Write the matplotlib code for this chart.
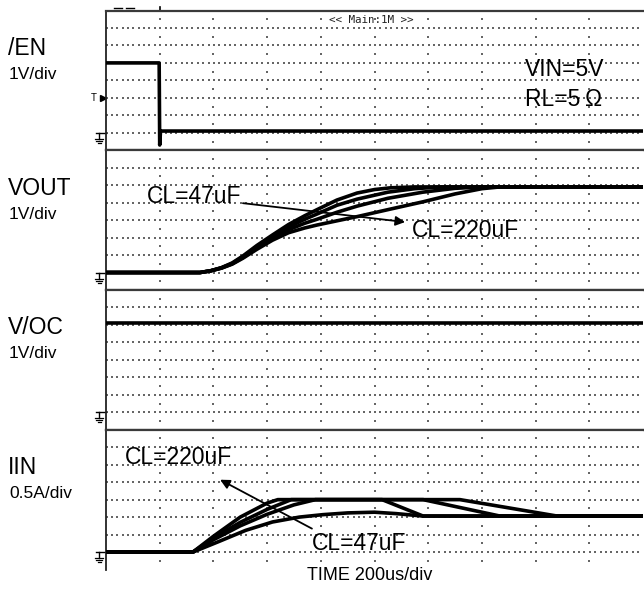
import numpy as np
import matplotlib
matplotlib.use("Agg")
import matplotlib.pyplot as plt
from matplotlib.transforms import blended_transform_factory

plt.rcParams["font.family"] = ["Liberation Sans", "DejaVu Sans"]

# time base: 200us/div, 10 div across
t_per_div = 200
n_xdiv = 10

# /EN (V)
en_t = [0, 198, 200, 203, 2000]
en_v = [4.0, 4.0, -0.7, 0.1, 0.1]

# VOUT (V), one trace per load cap
vout_t_47 = [0, 350, 390, 430, 470, 510, 562, 620, 680, 740, 786, 860, 935, 1000, 1060, 1150, 2000]
vout_v_47 = [0, 0, 0.1, 0.28, 0.55, 0.95, 1.55, 2.15, 2.75, 3.25, 3.6, 4.15, 4.55, 4.75, 4.85, 4.9, 4.9]
vout_t_100 = [0, 350, 390, 430, 470, 510, 562, 620, 680, 740, 786, 860, 935, 1050, 1150, 1250, 2000]
vout_v_100 = [0, 0, 0.1, 0.27, 0.52, 0.9, 1.47, 2.05, 2.6, 3.05, 3.35, 3.85, 4.2, 4.6, 4.8, 4.9, 4.9]
vout_t_150 = [0, 350, 390, 430, 470, 510, 562, 620, 680, 740, 786, 860, 935, 1050, 1180, 1300, 1400, 2000]
vout_v_150 = [0, 0, 0.1, 0.26, 0.5, 0.86, 1.4, 1.95, 2.45, 2.82, 3.05, 3.45, 3.8, 4.25, 4.6, 4.82, 4.9, 4.9]
vout_t_220 = [0, 350, 390, 430, 470, 510, 562, 620, 680, 740, 786, 860, 935, 1050, 1181, 1300, 1400, 1467, 2000]
vout_v_220 = [0, 0, 0.1, 0.25, 0.48, 0.82, 1.33, 1.85, 2.28, 2.55, 2.72, 2.96, 3.2, 3.6, 4.05, 4.5, 4.8, 4.9, 4.9]

# V/OC (V)
voc_t = [0, 2000]
voc_v = [5.1, 5.1]

# IIN (A)
iin_t_47 = [0, 324, 420, 520, 620, 720, 808, 900, 1000, 1080, 1180, 2000]
iin_a_47 = [0, 0, 0.3, 0.62, 0.86, 1.0, 1.07, 1.12, 1.14, 1.1, 1.03, 1.03]
iin_t_100 = [0, 324, 400, 500, 600, 700, 780, 1028, 1181, 2000]
iin_a_100 = [0, 0, 0.35, 0.75, 1.08, 1.35, 1.5, 1.5, 1.03, 1.03]
iin_t_150 = [0, 324, 400, 500, 600, 690, 1181, 1467, 2000]
iin_a_150 = [0, 0, 0.4, 0.85, 1.22, 1.5, 1.5, 1.03, 1.03]
iin_t_220 = [0, 324, 400, 500, 600, 640, 1318, 1680, 2000]
iin_a_220 = [0, 0, 0.45, 1.0, 1.4, 1.5, 1.5, 1.03, 1.03]

names = ["/EN", "VOUT", "V/OC", "IIN"]
scales = ["1V/div", "1V/div", "1V/div", "0.5A/div"]
per_div = [1.0, 1.0, 1.0, 0.5]

W, H = 644, 590
fig = plt.figure(figsize=(W / 100, H / 100), dpi=100)

left_px, right_px = 106, 643
top_px, panel_h = 10.5, 139.75
axes = []
for i in range(4):
    y0 = top_px + i * panel_h
    ax = fig.add_axes([left_px / W, 1 - (y0 + panel_h) / H,
                       (right_px - left_px) / W, panel_h / H])
    s = per_div[i]
    ax.set_xlim(0, n_xdiv * t_per_div)
    ax.set_ylim(-1 * s, 7 * s)
    ax.set_xticks([])
    ax.set_yticks([])
    ax.spines["right"].set_visible(False)
    ax.spines["top"].set_color("#3a3a3a")
    ax.spines["top"].set_linewidth(1.6)
    ax.spines["bottom"].set_color("#3a3a3a")
    ax.spines["bottom"].set_linewidth(1.6)
    ax.spines["left"].set_color("#222222")
    ax.spines["left"].set_linewidth(1.3)
    if i == 3:
        ax.spines["bottom"].set_visible(False)

    # dotted graticule
    xs = np.arange(2, n_xdiv * t_per_div, t_per_div / 10)
    for k in range(7):
        ax.scatter(xs, np.full_like(xs, k * s), s=0.9, marker="s", c="#666666",
                   lw=0, zorder=1)
    ys = (np.arange(0, 8) - 0.5) * s
    for k in range(1, n_xdiv):
        ax.scatter(np.full_like(ys, k * t_per_div), ys, s=0.9, marker="s",
                   c="#666666", lw=0, zorder=1)

    # ground marker left of the screen
    tr = blended_transform_factory(ax.transAxes, ax.transData)
    px = 1 / (right_px - left_px)
    dv = s / 17.5
    ax.plot([-10 * px, 0], [0, 0], color="black", lw=1.0, transform=tr, clip_on=False)
    ax.plot([-7 * px, -7 * px], [0, -6 * dv], color="black", lw=1.0, transform=tr, clip_on=False)
    for j, hw in enumerate([4, 3, 1.5]):
        yy = -(6 + 2 * j) * dv
        ax.plot([(-7 - hw) * px, (-7 + hw) * px], [yy, yy], color="black", lw=0.9,
                transform=tr, clip_on=False)

    # channel labels
    fig.text(8 / W, 1 - (55 + i * 139.75) / H, names[i], fontsize=16.5, va="baseline")
    fig.text(9 / W, 1 - (79 + i * 139.75) / H, scales[i], fontsize=12.5, va="baseline")
    axes.append(ax)

tr_lw = 2.6
ax1, ax2, ax3, ax4 = axes

# /EN
ax1.plot(en_t, en_v, color="black", lw=tr_lw, zorder=3)
ax1.text(830, 6.45, "<< Main:1M >>", fontsize=7.8, family="DejaVu Sans Mono",
         va="center", ha="left", color="#222222")
ax1.text(1560, 3.26, "VIN=5V", fontsize=16.5, va="baseline")
ax1.text(1560, 1.54, "RL=5\u2009\u03a9", fontsize=16.5, va="baseline")
tr1 = blended_transform_factory(ax1.transAxes, ax1.transData)
ax1.text(-0.022, 2.0, "T", fontsize=7, transform=tr1, va="center", ha="center")
ax1.plot([-0.006], [2.0], marker=">", ms=4, color="black", transform=tr1, clip_on=False)
ax1.plot([200, 200], [7.0, 7.2], color="black", lw=1.2, clip_on=False)
ax1.plot([30, 60], [7.15, 7.15], color="black", lw=1.0, clip_on=False)
ax1.plot([75, 105], [7.15, 7.15], color="black", lw=1.0, clip_on=False)

# VOUT
for tt, vv in [(vout_t_47, vout_v_47), (vout_t_100, vout_v_100),
               (vout_t_150, vout_v_150), (vout_t_220, vout_v_220)]:
    ax2.plot(tt, vv, color="black", lw=tr_lw, zorder=3)
ax2.text(153, 3.97, "CL=47uF", fontsize=16.5, va="baseline")
ax2.annotate("", xy=(1114, 2.89), xytext=(510, 3.97),
             arrowprops=dict(arrowstyle="-|>", color="black", lw=1.3,
                             mutation_scale=14, shrinkA=0, shrinkB=0))
ax2.text(1140, 2.03, "CL=220uF", fontsize=16.5, va="baseline")

# V/OC
ax3.plot(voc_t, voc_v, color="black", lw=tr_lw, zorder=3)

# IIN
for tt, aa in [(iin_t_47, iin_a_47), (iin_t_100, iin_a_100),
               (iin_t_150, iin_a_150), (iin_t_220, iin_a_220)]:
    ax4.plot(tt, aa, color="black", lw=tr_lw, zorder=3)
ax4.text(71, 2.53, "CL=220uF", fontsize=16.5, va="baseline")
ax4.annotate("", xy=(425, 2.07), xytext=(767, 0.67),
             arrowprops=dict(arrowstyle="-|>", color="black", lw=1.3,
                             mutation_scale=14, shrinkA=0, shrinkB=0))
ax4.text(767, 0.07, "CL=47uF", fontsize=16.5, va="baseline")

fig.text(307 / W, 1 - 580 / H, "TIME 200us/div", fontsize=13, va="baseline")

fig.savefig("out.png", dpi=100)
